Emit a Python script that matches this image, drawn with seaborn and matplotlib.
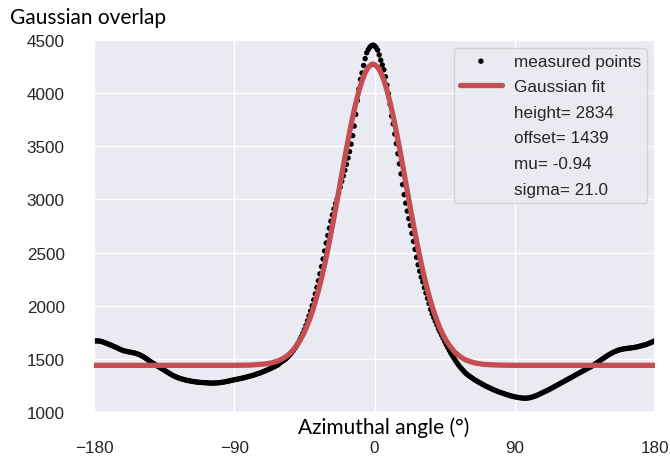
import matplotlib
matplotlib.use("Agg")
import matplotlib.pyplot as plt
from matplotlib.lines import Line2D
import seaborn as sns
import pandas as pd

# ---- data -------------------------------------------------------------
angles = list(range(-180, 181))
measured = [
    1668, 1669, 1669, 1668, 1666, 1662, 1657, 1652, 1646, 1640,   # -180..-171
    1634, 1628, 1622, 1616, 1609, 1602, 1595, 1588, 1582, 1577,   # -170..-161
    1573, 1570, 1567, 1564, 1561, 1558, 1555, 1551, 1546, 1540,   # -160..-151
    1533, 1525, 1516, 1507, 1497, 1487, 1477, 1467, 1457, 1448,   # -150..-141
    1439, 1430, 1421, 1412, 1403, 1394, 1385, 1376, 1367, 1358,   # -140..-131
    1349, 1341, 1334, 1328, 1322, 1317, 1312, 1308, 1304, 1300,   # -130..-121
    1297, 1294, 1291, 1288, 1286, 1284, 1282, 1280, 1279, 1278,   # -120..-111
    1277, 1276, 1275, 1274, 1273, 1272, 1272, 1272, 1273, 1274,   # -110..-101
    1275, 1277, 1279, 1281, 1284, 1287, 1290, 1293, 1297, 1300,   # -100..-91
    1303, 1306, 1309, 1312, 1315, 1318, 1321, 1325, 1329, 1333,   # -90..-81
    1337, 1341, 1345, 1350, 1355, 1360, 1365, 1370, 1376, 1382,   # -80..-71
    1388, 1394, 1400, 1407, 1414, 1421, 1428, 1436, 1444, 1456,   # -70..-61
    1468, 1478, 1488, 1499, 1512, 1527, 1543, 1561, 1580, 1601,   # -60..-51
    1624, 1650, 1678, 1708, 1740, 1775, 1815, 1858, 1903, 1950,   # -50..-41
    2000, 2055, 2112, 2172, 2235, 2300, 2368, 2440, 2515, 2590,   # -40..-31
    2660, 2730, 2795, 2855, 2910, 2960, 3005, 3060, 3115, 3170,   # -30..-21
    3222, 3275, 3330, 3390, 3450, 3520, 3600, 3690, 3800, 3930,   # -20..-11
    4040, 4130, 4190, 4260, 4325, 4380, 4410, 4432, 4446, 4452,   # -10..-1
    4445, 4430, 4405, 4360, 4310, 4265, 4220, 4155, 4075, 3995,   # 0..9
    3895, 3785, 3710, 3615, 3525, 3430, 3335, 3240, 3140, 3045,   # 10..19
    2965, 2890, 2820, 2755, 2680, 2605, 2530, 2455, 2385, 2325,   # 20..29
    2270, 2225, 2170, 2120, 2070, 2020, 1965, 1925, 1890, 1855,   # 30..39
    1820, 1785, 1755, 1725, 1695, 1665, 1635, 1608, 1580, 1553,   # 40..49
    1530, 1506, 1483, 1461, 1441, 1422, 1405, 1389, 1372, 1359,   # 50..59
    1347, 1336, 1326, 1316, 1306, 1297, 1288, 1279, 1271, 1263,   # 60..69
    1255, 1247, 1240, 1233, 1226, 1219, 1212, 1206, 1200, 1194,   # 70..79
    1188, 1183, 1178, 1173, 1168, 1163, 1158, 1154, 1150, 1146,   # 80..89
    1143, 1140, 1137, 1135, 1133, 1131, 1130, 1130, 1131, 1133,   # 90..99
    1136, 1140, 1145, 1150, 1155, 1162, 1169, 1176, 1183, 1190,   # 100..109
    1197, 1204, 1211, 1219, 1227, 1235, 1243, 1251, 1259, 1267,   # 110..119
    1275, 1283, 1291, 1299, 1307, 1315, 1323, 1331, 1340, 1348,   # 120..129
    1356, 1364, 1372, 1380, 1388, 1396, 1404, 1412, 1420, 1428,   # 130..139
    1436, 1446, 1456, 1466, 1476, 1486, 1496, 1506, 1516, 1526,   # 140..149
    1535, 1544, 1552, 1560, 1567, 1573, 1579, 1584, 1588, 1591,   # 150..159
    1594, 1596, 1598, 1600, 1602, 1604, 1606, 1608, 1611, 1614,   # 160..169
    1618, 1622, 1626, 1630, 1634, 1639, 1645, 1651, 1657, 1664,   # 170..179
    1670,                                                         # 180
]

fit_angles = [-180, -90, -80, -70, -66, -62, -60, -58, -56, -54, -52, -50,
              -48, -46, -44, -42, -40, -38, -36, -34, -32, -30, -28, -26,
              -24, -22, -20, -18, -16, -14, -12, -10, -8, -6, -4, -2, -1,
              0, 2, 4, 6, 8, 10, 12, 14, 16, 18, 20, 22, 24, 26, 28, 30,
              32, 34, 36, 38, 40, 42, 44, 46, 48, 50, 52, 54, 56, 58, 60,
              64, 70, 80, 90, 180]
fit_values = [1439, 1439, 1441, 1452, 1462, 1480, 1493, 1510, 1530, 1555, 1586, 1624,
              1669, 1722, 1785, 1858, 1941, 2036, 2142, 2260, 2388, 2527, 2675, 2830,
              2990, 3153, 3316, 3476, 3631, 3775, 3906, 4021, 4117, 4192, 4243, 4269, 4273,
              4270, 4245, 4196, 4123, 4028, 3913, 3783, 3639, 3486, 3326, 3163, 3000, 2839,
              2684, 2535, 2396, 2267, 2149, 2042, 1947, 1863, 1789, 1726, 1672, 1627, 1589,
              1557, 1531, 1511, 1494, 1481, 1463, 1448, 1441, 1439, 1439]

fit_labels = ["height= 2834", "offset= 1439", "mu= -0.94", "sigma= 21.0"]
x_ticks = [-180, -90, 0, 90, 180]
y_ticks = [1000, 1500, 2000, 2500, 3000, 3500, 4000, 4500]

# ---- style ------------------------------------------------------------
sns.set_theme(style="darkgrid")
plt.rcParams["font.family"] = ["Liberation Sans", "DejaVu Sans"]

W, H = 670, 460
fig = plt.figure(figsize=(W / 100, H / 100), dpi=100)
ax = fig.add_axes([94 / W, 1 - 413 / H, (655 - 94) / W, (413 - 41) / H])

df_meas = pd.DataFrame({"angle": angles, "value": measured})
df_fit = pd.DataFrame({"angle": fit_angles, "value": fit_values})

sns.scatterplot(data=df_meas, x="angle", y="value", ax=ax, color="black",
                s=15, edgecolor="none", linewidth=0, label="measured points",
                zorder=2)
sns.lineplot(data=df_fit, x="angle", y="value", ax=ax, color="#C44E52",
             linewidth=3.8, label="Gaussian fit", zorder=3)

ax.set_xlim(-180, 180)
ax.set_ylim(1000, 4500)
ax.set_xticks(x_ticks)
ax.set_yticks(y_ticks)
ax.set_xticklabels([f"{t}".replace("-", "\u2212") for t in x_ticks])
ax.set_xlabel("")
ax.set_ylabel("")
ax.tick_params(axis="x", pad=20, labelsize=12.3, colors="#262626", length=0)
ax.tick_params(axis="y", pad=21, labelsize=12.3, colors="#262626", length=0)

handles, labels = ax.get_legend_handles_labels()
for lab in fit_labels:
    handles.append(Line2D([], [], linestyle="none"))
    labels.append(lab)
leg = ax.legend(handles, labels, loc="upper right", fontsize=12.3,
                handlelength=2.5, labelspacing=0.62, borderaxespad=0.45,
                borderpad=0.35, handletextpad=0.7, markerscale=1.0)

fig.text(10 / W, 1 - 24.5 / H, "Gaussian overlap", ha="left", va="baseline",
         fontsize=15, family=["Lato", "DejaVu Sans"], color="black")
fig.text(383.5 / W, 1 - 433.5 / H, "Azimuthal angle (°)", ha="center",
         va="baseline", fontsize=15, family=["Lato", "DejaVu Sans"],
         color="black")

fig.savefig("out.png", dpi=100, facecolor="white")
